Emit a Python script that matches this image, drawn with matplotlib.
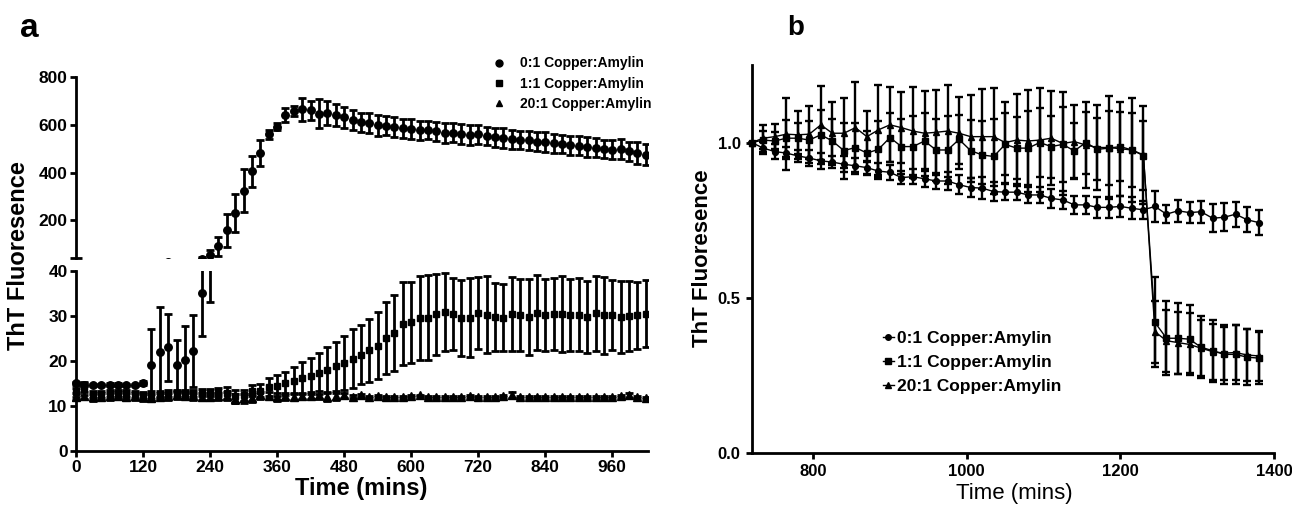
import matplotlib
matplotlib.use('Agg')
import matplotlib.pyplot as plt
from matplotlib.lines import Line2D
from matplotlib.ticker import FormatStrFormatter

plt.rcParams['font.family'] = ['Liberation Sans', 'DejaVu Sans']
plt.rcParams['font.weight'] = 'bold'

# ---------------- data ----------------
labels = ['0:1 Copper:Amylin', '1:1 Copper:Amylin', '20:1 Copper:Amylin']

times_a = list(range(0, 1021, 15))
cu0_a = [15.0, 14.7, 14.6, 14.6, 14.7, 14.7, 14.6, 14.6, 15.1,
         19.0, 22.0, 23.0, 19.0, 20.3, 22.1, 35.0,
         53, 91, 158, 231, 323, 406, 483, 560, 592, 641,
         658, 665, 662, 648, 651, 641, 632, 620, 612, 607,
         598, 596, 590, 587, 583, 578, 577, 574, 568, 568,
         562, 557, 560, 552, 548, 546, 540, 538, 535, 530,
         528, 524, 520, 515, 512, 508, 505, 500, 495, 497,
         490, 482, 475]
cu0_a_err = [0.3, 0.3, 0.3, 0.3, 0.3, 0.3, 0.3, 0.3, 0.4,
             8, 10, 7.5, 5.7, 7.5, 8, 9.5,
             20, 40, 70, 80, 90, 65, 55, 18, 15, 28,
             22, 50, 40, 60, 50, 45, 45, 42, 40, 42,
             45, 40, 42, 40, 42, 40, 38, 40, 42, 40,
             40, 42, 40, 38, 40, 42, 40, 38, 40, 40,
             42, 40, 38, 40, 40, 42, 40, 38, 40, 42,
             40, 45, 45]
cu1_a = [13.0, 13.8, 12.5, 12.5, 12.8, 12.8, 12.8, 12.6, 12.3,
         12.4, 12.5, 12.7, 12.8, 12.8, 12.7, 12.9,
         12.9, 13.1, 12.8, 12.1, 12.3, 13.4, 13.4, 14.2, 14.5, 15.0,
         15.6, 16.2, 16.6, 17.2, 18.0, 18.8, 19.6, 20.5, 21.4, 22.4,
         23.4, 25.0, 26.2, 28.3, 28.6, 29.5, 29.6, 30.4, 30.8, 30.4,
         29.5, 29.6, 30.6, 30.3, 29.8, 29.6, 30.5, 30.3, 29.7, 30.7,
         30.2, 30.5, 30.4, 30.2, 30.3, 29.8, 30.6, 30.1, 30.2, 29.7,
         29.9, 30.1, 30.5]
cu1_a_err = [1.0, 1.5, 0.8, 0.8, 0.8, 0.8, 0.8, 0.8, 0.8,
             0.8, 0.8, 0.8, 0.8, 0.8, 0.8, 0.8,
             0.8, 0.9, 1.4, 1.5, 1.3, 1.2, 1.5, 2.0, 2.3, 2.5,
             3.0, 3.5, 4.0, 4.5, 5.0, 5.5, 6.0, 6.5, 6.5, 7.0,
             7.5, 8.0, 8.5, 9.3, 9.0, 9.4, 9.4, 9.0, 8.7, 8.0,
             8.5, 8.8, 8.0, 8.5, 7.5, 7.5, 8.2, 8.0, 8.5, 8.3,
             8.0, 8.0, 8.5, 8.0, 8.2, 8.0, 8.3, 8.5, 7.8, 8.0,
             7.8, 7.5, 7.5]
cu20_a = [12.0, 12.2, 11.9, 12.0, 12.1, 12.2, 12.0, 12.1, 11.9,
          11.8, 12.0, 12.1, 12.3, 12.2, 12.1, 12.0,
          12.0, 12.1, 12.2, 11.6, 11.7, 11.8, 12.3, 12.2, 12.0, 12.1,
          12.0, 12.1, 12.2, 12.3, 12.0, 12.1, 12.3, 12.0, 12.3, 11.9,
          12.1, 12.0, 11.9, 12.0, 12.1, 12.3, 11.9, 12.0, 12.0, 11.9,
          12.0, 12.1, 11.9, 11.9, 12.0, 12.1, 12.4, 11.9, 11.9, 11.9,
          12.0, 11.9, 11.9, 12.0, 11.9, 12.0, 11.9, 12.0, 12.0, 12.1,
          12.3, 11.9, 11.8]
cu20_a_err = [0.8, 0.8, 0.8, 0.8, 0.8, 0.8, 0.8, 0.8, 0.8,
              0.8, 0.8, 0.8, 0.8, 0.8, 0.8, 0.8,
              0.8, 0.8, 0.9, 1.0, 1.0, 0.9, 0.8, 0.8, 0.9, 0.8,
              0.8, 0.7, 0.8, 0.9, 0.9, 0.8, 0.5, 0.3, 0.3, 0.2,
              0.2, 0.2, 0.2, 0.2, 0.2, 0.2, 0.2, 0.2, 0.2, 0.2,
              0.2, 0.2, 0.2, 0.2, 0.2, 0.2, 0.6, 0.2, 0.2, 0.2,
              0.2, 0.2, 0.2, 0.2, 0.2, 0.2, 0.2, 0.2, 0.2, 0.2,
              0.6, 0.2, 0.2]

times_b = list(range(720, 1381, 15))
cu0_b = [1.0, 0.982, 0.971, 0.966, 0.957, 0.950, 0.941, 0.937, 0.930, 0.925,
         0.919, 0.908, 0.904, 0.887, 0.890, 0.883, 0.876, 0.876, 0.864, 0.855,
         0.853, 0.842, 0.840, 0.840, 0.831, 0.831, 0.820, 0.815, 0.799, 0.799,
         0.791, 0.791, 0.794, 0.788, 0.783, 0.794, 0.769, 0.780, 0.774, 0.777,
         0.756, 0.759, 0.769, 0.751, 0.742]
cu0_b_err = [0.0, 0.02, 0.025, 0.02, 0.02, 0.025, 0.025, 0.02, 0.025, 0.025,
             0.02, 0.025, 0.025, 0.02, 0.025, 0.025, 0.025, 0.03, 0.03, 0.03,
             0.035, 0.03, 0.025, 0.025, 0.025, 0.025, 0.03, 0.03, 0.03, 0.03,
             0.035, 0.035, 0.035, 0.035, 0.03, 0.05, 0.03, 0.035, 0.035, 0.035,
             0.045, 0.045, 0.04, 0.04, 0.04]
cu1_b = [1.0, 1.008, 1.005, 1.014, 1.014, 1.008, 1.025, 1.005, 0.974, 0.984,
         0.966, 0.978, 1.016, 0.987, 0.987, 1.005, 0.976, 0.976, 1.01, 0.974,
         0.96, 0.955, 0.994, 0.982, 0.982, 1.0, 0.987, 0.994, 0.973, 1.0,
         0.978, 0.982, 0.987, 0.976, 0.958, 0.42, 0.369, 0.369, 0.366, 0.34,
         0.329, 0.317, 0.317, 0.308, 0.305]
cu1_b_err = [0.0, 0.03, 0.03, 0.06, 0.05, 0.06, 0.08, 0.07, 0.09, 0.08,
             0.07, 0.09, 0.08, 0.09, 0.1, 0.09, 0.1, 0.11, 0.08, 0.1,
             0.11, 0.12, 0.1, 0.1, 0.12, 0.11, 0.1, 0.12, 0.09, 0.1,
             0.1, 0.12, 0.11, 0.12, 0.11, 0.145, 0.12, 0.115, 0.11, 0.1,
             0.1, 0.095, 0.095, 0.09, 0.085]
cu20_b = [1.0, 1.014, 1.019, 1.027, 1.025, 1.027, 1.057, 1.03, 1.03, 1.048,
          1.019, 1.041, 1.057, 1.048, 1.037, 1.03, 1.033, 1.037, 1.03, 1.019,
          1.019, 1.019, 1.0, 1.008, 1.005, 1.008, 1.014, 0.997, 1.003, 0.992,
          0.984, 0.984, 0.98, 0.976, 0.96, 0.39, 0.361, 0.355, 0.349, 0.337,
          0.326, 0.321, 0.323, 0.315, 0.312]
cu20_b_err = [0.0, 0.043, 0.04, 0.116, 0.077, 0.092, 0.126, 0.102, 0.113, 0.146,
              0.083, 0.145, 0.121, 0.114, 0.143, 0.137, 0.137, 0.149, 0.116, 0.134,
              0.154, 0.158, 0.132, 0.149, 0.165, 0.167, 0.151, 0.165, 0.118, 0.14,
              0.137, 0.167, 0.152, 0.167, 0.158, 0.1, 0.1, 0.1, 0.1, 0.09,
              0.09, 0.085, 0.09, 0.085, 0.08]

xticks_a = [0, 120, 240, 360, 480, 600, 720, 840, 960]
yticks_a_low = [0, 10, 20, 30, 40]
yticks_a_high = [200, 400, 600, 800]
xticks_b = [800, 1000, 1200, 1400]
yticks_b = [0.0, 0.5, 1.0]

# ---------------- layout ----------------
W, H = 1292, 508
fig = plt.figure(figsize=(W / 100, H / 100), dpi=100)


def fx(px):
    return px / W


def fy(py):
    return 1 - py / H


ppm = (612.3 - 76) / 960.0
xmin_a, xmax_a = -8, 1024
lpx = 76 + xmin_a * ppm
rpx = 76 + xmax_a * ppm
ax_top = fig.add_axes([fx(lpx), fy(258.3), (rpx - lpx) / W, (258.3 - 77.3) / H])
ax_bot = fig.add_axes([fx(lpx), fy(450.7), (rpx - lpx) / W, (450.7 - 271.0) / H])

eb_style = dict(color='black', ecolor='black', elinewidth=2.0, capsize=3.2,
                capthick=2.0, ls='none')
series_a = [(cu0_a, cu0_a_err, 'o', 5.4), (cu1_a, cu1_a_err, 's', 5.0),
            (cu20_a, cu20_a_err, '^', 5.4)]
# upper segment: only the series that reaches above the break
ax_top.errorbar(times_a, cu0_a, yerr=cu0_a_err, fmt='o', ms=5.4, **eb_style)
for vals, errs, mk, ms in series_a:
    ax_bot.errorbar(times_a, vals, yerr=errs, fmt=mk, ms=ms, **eb_style)

for ax in (ax_top, ax_bot):
    ax.set_xlim(xmin_a, xmax_a)
    ax.spines['top'].set_visible(False)
    ax.spines['right'].set_visible(False)
    ax.spines['left'].set_position(('data', 0))
    for s in ('left', 'bottom'):
        ax.spines[s].set_linewidth(2.0)
    ax.tick_params(width=2, length=4, labelsize=12.5, pad=2)

ax_top.set_ylim(40, 800)
ax_top.set_yticks(yticks_a_high)
ax_top.set_yticks([40], minor=True)
ax_top.tick_params(axis='y', which='minor', direction='inout', length=8, width=2)
ax_top.spines['bottom'].set_visible(False)
ax_top.tick_params(axis='x', which='both', bottom=False, labelbottom=False)

ax_bot.set_ylim(0, 40)
ax_bot.set_yticks(yticks_a_low)
ax_bot.set_yticks([40], minor=True)
ax_bot.tick_params(axis='y', which='minor', direction='in', length=4, width=2)
ax_bot.set_xticks(xticks_a)
ax_bot.spines['bottom'].set_bounds(0, xmax_a)
ax_bot.tick_params(axis='x', pad=3)

handles_a = [Line2D([], [], marker='o', ls='none', color='black', ms=5),
             Line2D([], [], marker='s', ls='none', color='black', ms=4.5),
             Line2D([], [], marker='^', ls='none', color='black', ms=5)]
ax_top.legend(handles_a, labels, loc='upper left',
              bbox_to_anchor=(fx(492.5), fy(56.5)), bbox_transform=fig.transFigure,
              frameon=False, prop={'size': 10, 'weight': 'bold'},
              handlelength=1.0, handletextpad=1.0, labelspacing=0.45,
              borderpad=0, borderaxespad=0)

# panel b
ax_b = fig.add_axes([fx(751.7), fy(452.7), (1274 - 751.7) / W, (452.7 - 65) / H])
series_b = [(cu0_b, cu0_b_err, 'o', 4.2), (cu1_b, cu1_b_err, 's', 4.2),
            (cu20_b, cu20_b_err, '^', 4.2)]
for vals, errs, mk, ms in series_b:
    ax_b.errorbar(times_b, vals, yerr=errs, fmt='-' + mk, ms=ms, lw=1.0,
                  color='black', ecolor='black', elinewidth=1.7, capsize=2.8,
                  capthick=1.7, clip_on=False)
ax_b.set_xlim(720, 1400)
ax_b.set_ylim(0, 1.25)
ax_b.set_xticks(xticks_b)
ax_b.set_yticks(yticks_b)
ax_b.yaxis.set_major_formatter(FormatStrFormatter('%.1f'))
ax_b.spines['top'].set_visible(False)
ax_b.spines['right'].set_visible(False)
for s in ('left', 'bottom'):
    ax_b.spines[s].set_linewidth(2.0)
ax_b.tick_params(width=2, length=4, labelsize=12, pad=4)

handles_b = [Line2D([], [], marker='o', ls='-', lw=1.0, color='black', ms=4),
             Line2D([], [], marker='s', ls='-', lw=1.0, color='black', ms=4),
             Line2D([], [], marker='^', ls='-', lw=1.0, color='black', ms=4)]
ax_b.legend(handles_b, labels, loc='upper left',
            bbox_to_anchor=(fx(882.7), fy(331)), bbox_transform=fig.transFigure,
            frameon=False, prop={'size': 12.5, 'weight': 'bold'},
            handlelength=0.65, handletextpad=0.2, labelspacing=0.5,
            borderpad=0, borderaxespad=0)

# labels
fig.text(fx(18.5), fy(256), 'ThT Fluoresence', rotation=90, ha='center',
         va='center', fontsize=17, fontweight='bold')
fig.text(fx(361), fy(489), 'Time (mins)', ha='center', va='center',
         fontsize=17, fontweight='bold')
fig.text(fx(703), fy(258), 'ThT Fluoresence', rotation=90, ha='center',
         va='center', fontsize=16, fontweight='bold')
fig.text(fx(1014), fy(493), 'Time (mins)', ha='center', va='center',
         fontsize=16, fontweight='normal')
fig.text(fx(20), fy(37), 'a', fontsize=24, fontweight='bold', va='baseline')
fig.text(fx(787), fy(35), 'b', fontsize=20, fontweight='bold', va='baseline')

fig.savefig('out.png', dpi=100)
